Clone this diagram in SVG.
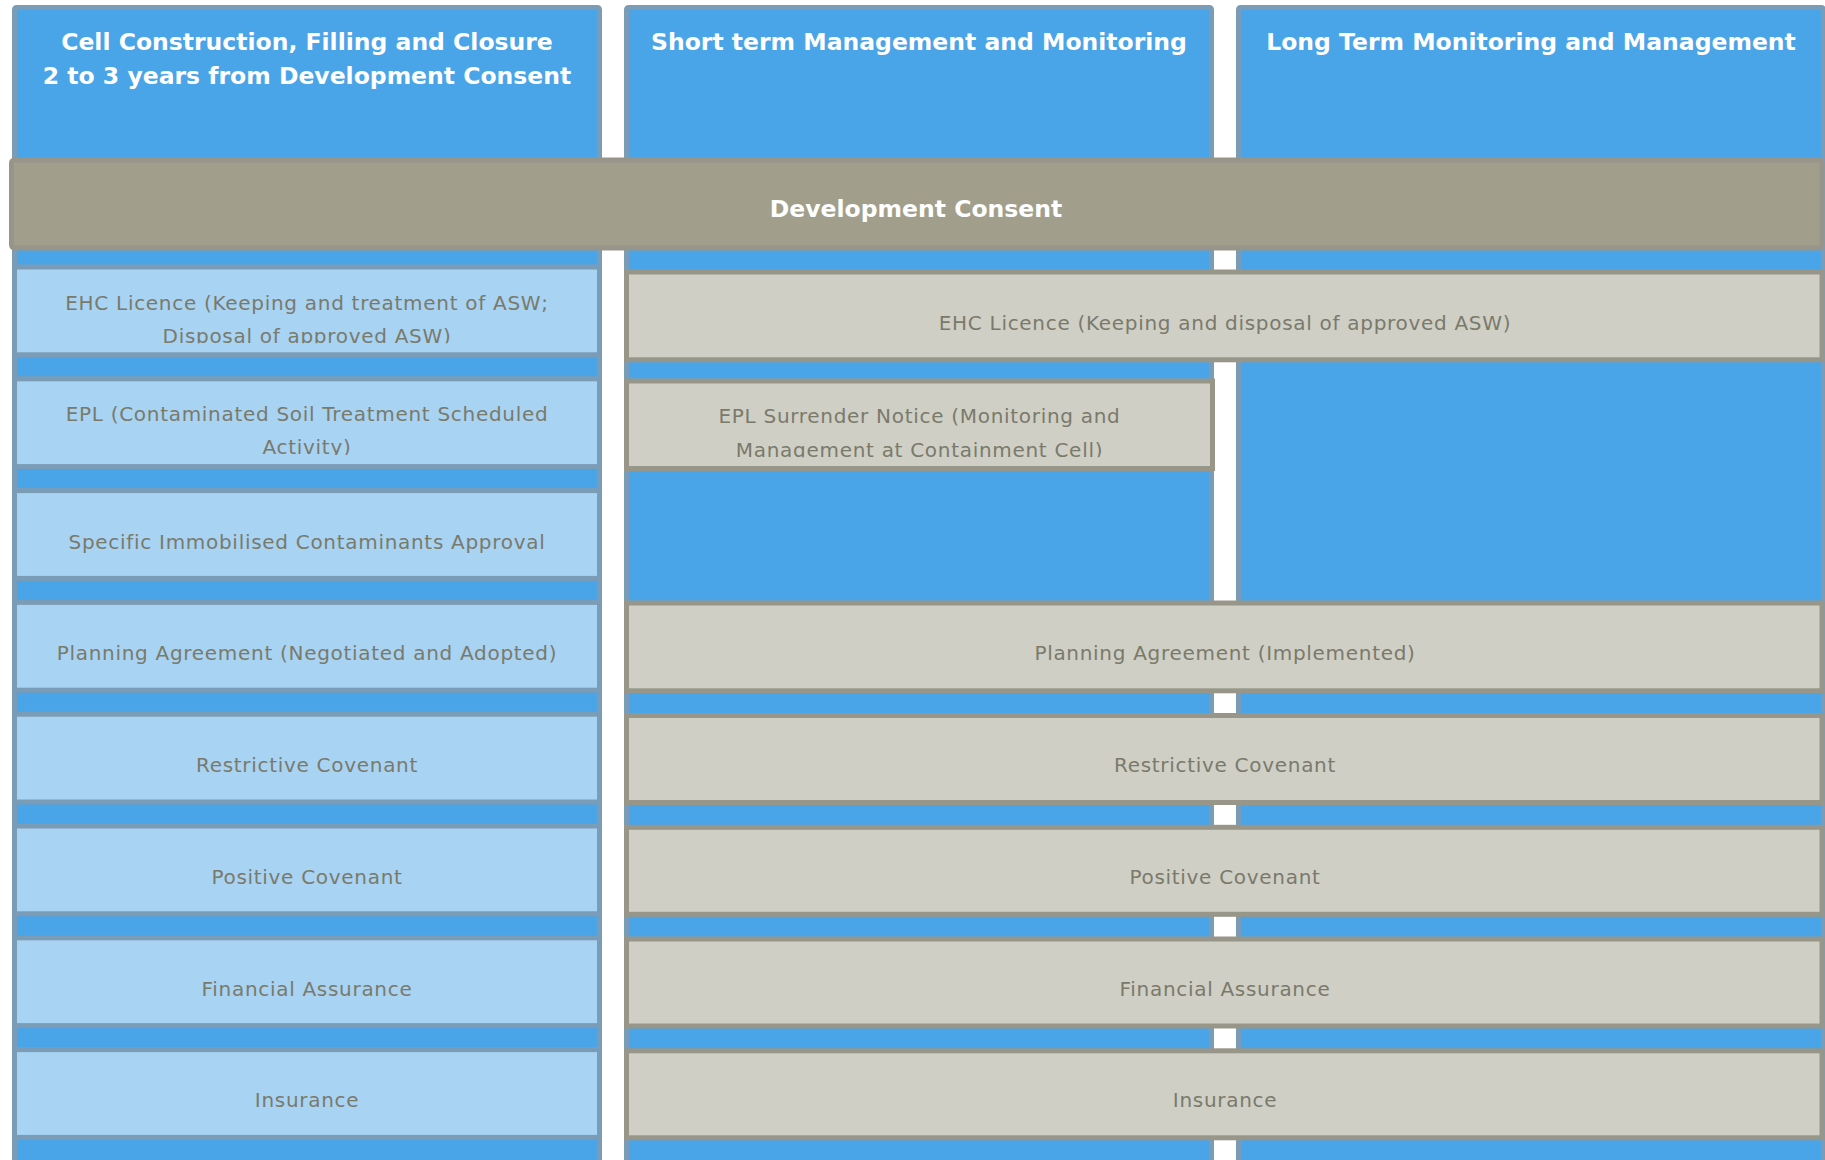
<svg xmlns="http://www.w3.org/2000/svg" width="1825" height="1160" viewBox="0 0 1825 1160">
  <style>
    .col { fill: #4aa4e8; stroke: #7b9cb6; stroke-width: 5; }
    .band { fill: #a19f8c; stroke: #979589; stroke-width: 5; }
    .cell-a { fill: #a8d3f3; stroke: #7b9cb6; stroke-width: 5; }
    .cell-b { fill: #cfcfc6; stroke: #979689; stroke-width: 5; }
    .head { font-family: "DejaVu Sans", Verdana, sans-serif; font-weight: bold; font-size: 23.5px; fill: #ffffff; text-anchor: middle; }
    .lbl { font-family: "DejaVu Sans", Verdana, sans-serif; font-size: 20px; letter-spacing: 0.7px; fill: #7a7a6b; text-anchor: middle; }
  </style>
  <defs>
    <clipPath id="clip-ehc-a"><rect x="17" y="269" width="580" height="74.3"/></clipPath>
    <clipPath id="clip-epl-a"><rect x="17" y="381" width="580" height="74"/></clipPath>
    <clipPath id="clip-epl-b"><rect x="629" y="383.5" width="580" height="73.8"/></clipPath>
  </defs>

  <rect width="1825" height="1160" fill="#ffffff"/>

  <!-- phase columns -->
  <g id="phase-construction">
    <rect class="col" x="14.5" y="7.5" width="585" height="1180" rx="2"/>
    <text class="head" x="307" y="49.5">Cell Construction, Filling and Closure</text>
    <text class="head" x="307" y="83.5">2 to 3 years from Development Consent</text>
  </g>
  <g id="phase-short-term">
    <rect class="col" x="626.5" y="7.5" width="585" height="1180" rx="2"/>
    <text class="head" x="919" y="49.5">Short term Management and Monitoring</text>
  </g>
  <g id="phase-long-term">
    <rect class="col" x="1238.5" y="7.5" width="585" height="1180" rx="2"/>
    <text class="head" x="1531" y="49.5">Long Term Monitoring and Management</text>
  </g>

  <!-- spanning consent band -->
  <g id="development-consent">
    <rect class="band" x="11.5" y="160" width="1810.5" height="88" rx="3"/>
    <text class="head" x="916" y="216.5">Development Consent</text>
  </g>

  <!-- construction phase instruments -->
  <g id="ehc-licence-construction">
    <rect class="cell-a" x="14.5" y="267" width="585" height="87.8"/>
    <g clip-path="url(#clip-ehc-a)">
      <text class="lbl" x="307" y="309.5">EHC Licence (Keeping and treatment of ASW;</text>
      <text class="lbl" x="307" y="342.8">Disposal of approved ASW)</text>
    </g>
  </g>
  <g id="epl-construction">
    <rect class="cell-a" x="14.5" y="378.8" width="585" height="87.8"/>
    <g clip-path="url(#clip-epl-a)">
      <text class="lbl" x="307" y="420.8">EPL (Contaminated Soil Treatment Scheduled</text>
      <text class="lbl" x="307" y="454.1">Activity)</text>
    </g>
  </g>
  <g id="immobilised-approval">
    <rect class="cell-a" x="14.5" y="490.6" width="585" height="87.8"/>
    <text class="lbl" x="307" y="549">Specific Immobilised Contaminants Approval</text>
  </g>
  <g id="planning-agreement-construction">
    <rect class="cell-a" x="14.5" y="602.4" width="585" height="87.8"/>
    <text class="lbl" x="307" y="660.2">Planning Agreement (Negotiated and Adopted)</text>
  </g>
  <g id="restrictive-covenant-construction">
    <rect class="cell-a" x="14.5" y="714.2" width="585" height="87.8"/>
    <text class="lbl" x="307" y="772">Restrictive Covenant</text>
  </g>
  <g id="positive-covenant-construction">
    <rect class="cell-a" x="14.5" y="826" width="585" height="87.8"/>
    <text class="lbl" x="307" y="883.8">Positive Covenant</text>
  </g>
  <g id="financial-assurance-construction">
    <rect class="cell-a" x="14.5" y="937.8" width="585" height="87.8"/>
    <text class="lbl" x="307" y="995.6">Financial Assurance</text>
  </g>
  <g id="insurance-construction">
    <rect class="cell-a" x="14.5" y="1049.6" width="585" height="87.8"/>
    <text class="lbl" x="307" y="1107.2">Insurance</text>
  </g>

  <!-- post-closure instruments -->
  <g id="ehc-licence-post">
    <rect class="cell-b" x="626.5" y="272" width="1195.5" height="87.8"/>
    <text class="lbl" x="1225" y="329.5">EHC Licence (Keeping and disposal of approved ASW)</text>
  </g>
  <g id="epl-surrender">
    <rect class="cell-b" x="626.5" y="381" width="586" height="87.5"/>
    <g clip-path="url(#clip-epl-b)">
      <text class="lbl" x="919.5" y="423.4">EPL Surrender Notice (Monitoring and</text>
      <text class="lbl" x="919.5" y="456.7">Management at Containment Cell)</text>
    </g>
  </g>
  <g id="planning-agreement-post">
    <rect class="cell-b" x="626.5" y="603" width="1195.5" height="87.8"/>
    <text class="lbl" x="1225" y="660.2">Planning Agreement (Implemented)</text>
  </g>
  <g id="restrictive-covenant-post">
    <rect class="cell-b" x="626.5" y="715.5" width="1195.5" height="87"/>
    <text class="lbl" x="1225" y="772.3">Restrictive Covenant</text>
  </g>
  <g id="positive-covenant-post">
    <rect class="cell-b" x="626.5" y="827.3" width="1195.5" height="87"/>
    <text class="lbl" x="1225" y="884.3">Positive Covenant</text>
  </g>
  <g id="financial-assurance-post">
    <rect class="cell-b" x="626.5" y="939" width="1195.5" height="87"/>
    <text class="lbl" x="1225" y="995.6">Financial Assurance</text>
  </g>
  <g id="insurance-post">
    <rect class="cell-b" x="626.5" y="1050.8" width="1195.5" height="87"/>
    <text class="lbl" x="1225" y="1107.2">Insurance</text>
  </g>
</svg>
